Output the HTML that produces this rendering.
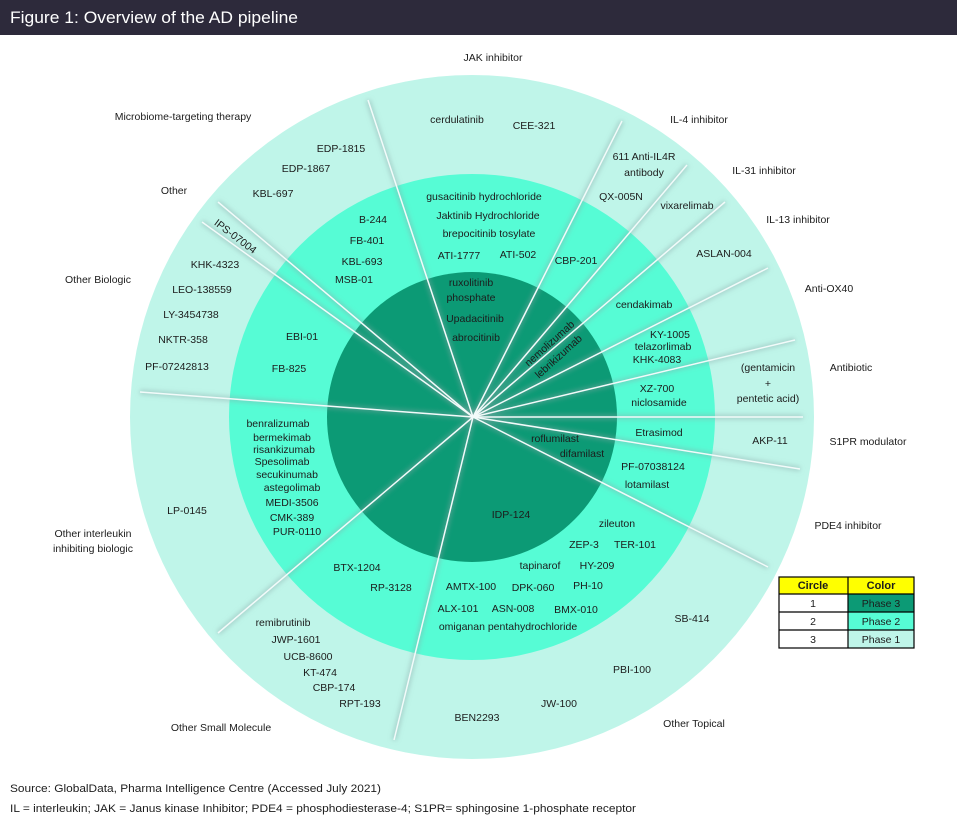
<!DOCTYPE html>
<html><head><meta charset="utf-8"><style>
html,body{margin:0;padding:0;background:#fff}
svg{display:block}
text{font-family:"Liberation Sans",sans-serif;font-size:10.5px;fill:#1c1c1c}
.c text{text-anchor:middle;dominant-baseline:middle}
</style></head><body>
<svg width="957" height="830" viewBox="0 0 957 830" xmlns="http://www.w3.org/2000/svg">
<defs>
<filter id="gl" x="-10%" y="-10%" width="120%" height="120%"><feGaussianBlur stdDeviation="2.5"/></filter>
</defs>
<rect x="0" y="0" width="957" height="35" fill="#2d2a3b"/>
<text x="10" y="23" style="font-size:17px;fill:#fff" textLength="288" lengthAdjust="spacingAndGlyphs">Figure 1: Overview of the AD pipeline</text>

<circle cx="472" cy="417" r="342" fill="#bff5e9"/>
<circle cx="472" cy="417" r="243" fill="#56fcd5"/>
<circle cx="472" cy="417" r="145" fill="#0c9a75"/>

<g stroke="#8aa8a8" stroke-width="5" stroke-opacity="0.45" filter="url(#gl)">
<line x1="473" y1="417" x2="368" y2="100"/><line x1="473" y1="417" x2="622" y2="121"/>
<line x1="473" y1="417" x2="687" y2="165"/><line x1="473" y1="417" x2="725" y2="202"/>
<line x1="473" y1="417" x2="768" y2="268"/><line x1="473" y1="417" x2="795" y2="340"/>
<line x1="473" y1="417" x2="803" y2="417"/><line x1="473" y1="417" x2="800" y2="469"/>
<line x1="473" y1="417" x2="768" y2="567"/><line x1="473" y1="417" x2="394" y2="740"/>
<line x1="473" y1="417" x2="218" y2="633"/><line x1="473" y1="417" x2="140" y2="392"/>
<line x1="473" y1="417" x2="218" y2="202"/><line x1="473" y1="417" x2="202" y2="222"/>
</g>
<g stroke="#f2fbfa" stroke-width="1.5">
<line x1="473" y1="417" x2="368" y2="100"/><line x1="473" y1="417" x2="622" y2="121"/>
<line x1="473" y1="417" x2="687" y2="165"/><line x1="473" y1="417" x2="725" y2="202"/>
<line x1="473" y1="417" x2="768" y2="268"/><line x1="473" y1="417" x2="795" y2="340"/>
<line x1="473" y1="417" x2="803" y2="417"/><line x1="473" y1="417" x2="800" y2="469"/>
<line x1="473" y1="417" x2="768" y2="567"/><line x1="473" y1="417" x2="394" y2="740"/>
<line x1="473" y1="417" x2="218" y2="633"/><line x1="473" y1="417" x2="140" y2="392"/>
<line x1="473" y1="417" x2="218" y2="202"/><line x1="473" y1="417" x2="202" y2="222"/>
</g>

<g class="c">
<text x="493" y="58">JAK inhibitor</text>
<text x="183" y="117">Microbiome-targeting therapy</text>
<text x="457" y="120">cerdulatinib</text>
<text x="534" y="126">CEE-321</text>
<text x="699" y="120">IL-4 inhibitor</text>
<text x="341" y="149">EDP-1815</text>
<text x="306" y="169">EDP-1867</text>
<text x="644" y="157">611 Anti-IL4R</text>
<text x="644" y="173">antibody</text>
<text x="764" y="171">IL-31 inhibitor</text>
<text x="174" y="191">Other</text>
<text x="273" y="194">KBL-697</text>
<text x="621" y="197">QX-005N</text>
<text x="484" y="197">gusacitinib hydrochloride</text>
<text x="687" y="206">vixarelimab</text>
<text x="488" y="216">Jaktinib Hydrochloride</text>
<text x="798" y="220">IL-13 inhibitor</text>
<text x="373" y="220">B-244</text>
<text x="489" y="234">brepocitinib tosylate</text>
<text x="367" y="241">FB-401</text>
<text x="235" y="237" transform="rotate(37 235 237)">IPS-07004</text>
<text x="459" y="256">ATI-1777</text>
<text x="518" y="255">ATI-502</text>
<text x="724" y="254">ASLAN-004</text>
<text x="576" y="261">CBP-201</text>
<text x="362" y="262">KBL-693</text>
<text x="215" y="265">KHK-4323</text>
<text x="354" y="280">MSB-01</text>
<text x="98" y="280">Other Biologic</text>
<text x="471" y="283">ruxolitinib</text>
<text x="471" y="298">phosphate</text>
<text x="202" y="290">LEO-138559</text>
<text x="829" y="289">Anti-OX40</text>
<text x="644" y="305">cendakimab</text>
<text x="191" y="315">LY-3454738</text>
<text x="475" y="319">Upadacitinib</text>
<text x="550" y="344" transform="rotate(-42 550 344)">nemolizumab</text>
<text x="559" y="357" transform="rotate(-42 559 357)">lebrikizumab</text>
<text x="476" y="338">abrocitinib</text>
<text x="302" y="337">EBI-01</text>
<text x="183" y="340">NKTR-358</text>
<text x="670" y="335">KY-1005</text>
<text x="663" y="347">telazorlimab</text>
<text x="657" y="360">KHK-4083</text>
<text x="768" y="368">(gentamicin</text>
<text x="768" y="384">+</text>
<text x="768" y="399">pentetic acid)</text>
<text x="851" y="368">Antibiotic</text>
<text x="177" y="367">PF-07242813</text>
<text x="289" y="369">FB-825</text>
<text x="657" y="389">XZ-700</text>
<text x="659" y="403">niclosamide</text>
<text x="278" y="424">benralizumab</text>
<text x="659" y="433">Etrasimod</text>
<text x="770" y="441">AKP-11</text>
<text x="868" y="442">S1PR modulator</text>
<text x="555" y="439">roflumilast</text>
<text x="282" y="438">bermekimab</text>
<text x="284" y="450">risankizumab</text>
<text x="582" y="454">difamilast</text>
<text x="282" y="462">Spesolimab</text>
<text x="653" y="467">PF-07038124</text>
<text x="287" y="475">secukinumab</text>
<text x="292" y="488">astegolimab</text>
<text x="647" y="485">lotamilast</text>
<text x="292" y="503">MEDI-3506</text>
<text x="187" y="511">LP-0145</text>
<text x="511" y="515">IDP-124</text>
<text x="292" y="518">CMK-389</text>
<text x="617" y="524">zileuton</text>
<text x="848" y="526">PDE4 inhibitor</text>
<text x="93" y="534">Other interleukin</text>
<text x="93" y="549">inhibiting biologic</text>
<text x="297" y="532">PUR-0110</text>
<text x="584" y="545">ZEP-3</text>
<text x="635" y="545">TER-101</text>
<text x="357" y="568">BTX-1204</text>
<text x="540" y="566">tapinarof</text>
<text x="597" y="566">HY-209</text>
<text x="391" y="588">RP-3128</text>
<text x="471" y="587">AMTX-100</text>
<text x="533" y="588">DPK-060</text>
<text x="588" y="586">PH-10</text>
<text x="458" y="609">ALX-101</text>
<text x="513" y="609">ASN-008</text>
<text x="576" y="610">BMX-010</text>
<text x="508" y="627">omiganan pentahydrochloride</text>
<text x="692" y="619">SB-414</text>
<text x="283" y="623">remibrutinib</text>
<text x="296" y="640">JWP-1601</text>
<text x="308" y="657">UCB-8600</text>
<text x="320" y="673">KT-474</text>
<text x="334" y="688">CBP-174</text>
<text x="360" y="704">RPT-193</text>
<text x="632" y="670">PBI-100</text>
<text x="221" y="728">Other Small Molecule</text>
<text x="477" y="718">BEN2293</text>
<text x="559" y="704">JW-100</text>
<text x="694" y="724">Other Topical</text>
</g>

<g>
<rect x="779" y="577" width="69" height="17" fill="#ffff00"/>
<rect x="848" y="577" width="66" height="17" fill="#ffff00"/>
<rect x="779" y="594" width="69" height="54" fill="#fff"/>
<rect x="848" y="594" width="66" height="18" fill="#0c9a75"/>
<rect x="848" y="612" width="66" height="18" fill="#56fcd5"/>
<rect x="848" y="630" width="66" height="18" fill="#bff5e9"/>
<g fill="none" stroke="#000" stroke-width="1.2">
<rect x="779" y="577" width="135" height="71"/>
<line x1="779" y1="594" x2="914" y2="594"/><line x1="779" y1="612" x2="914" y2="612"/>
<line x1="779" y1="630" x2="914" y2="630"/><line x1="848" y1="577" x2="848" y2="648"/>
</g>
<g class="c">
<text x="813" y="586" style="font-weight:bold;font-size:11px">Circle</text>
<text x="881" y="586" style="font-weight:bold;font-size:11px">Color</text>
<text x="813" y="604">1</text><text x="881" y="604">Phase 3</text>
<text x="813" y="622">2</text><text x="881" y="622">Phase 2</text>
<text x="813" y="640">3</text><text x="881" y="640">Phase 1</text>
</g>
</g>

<text x="10" y="792" style="font-size:11px" textLength="371" lengthAdjust="spacingAndGlyphs">Source: GlobalData, Pharma Intelligence Centre (Accessed July 2021)</text>
<text x="10" y="812" style="font-size:11px" textLength="626" lengthAdjust="spacingAndGlyphs">IL = interleukin; JAK = Janus kinase Inhibitor; PDE4 = phosphodiesterase-4; S1PR= sphingosine 1-phosphate receptor</text>
</svg>
</body></html>
